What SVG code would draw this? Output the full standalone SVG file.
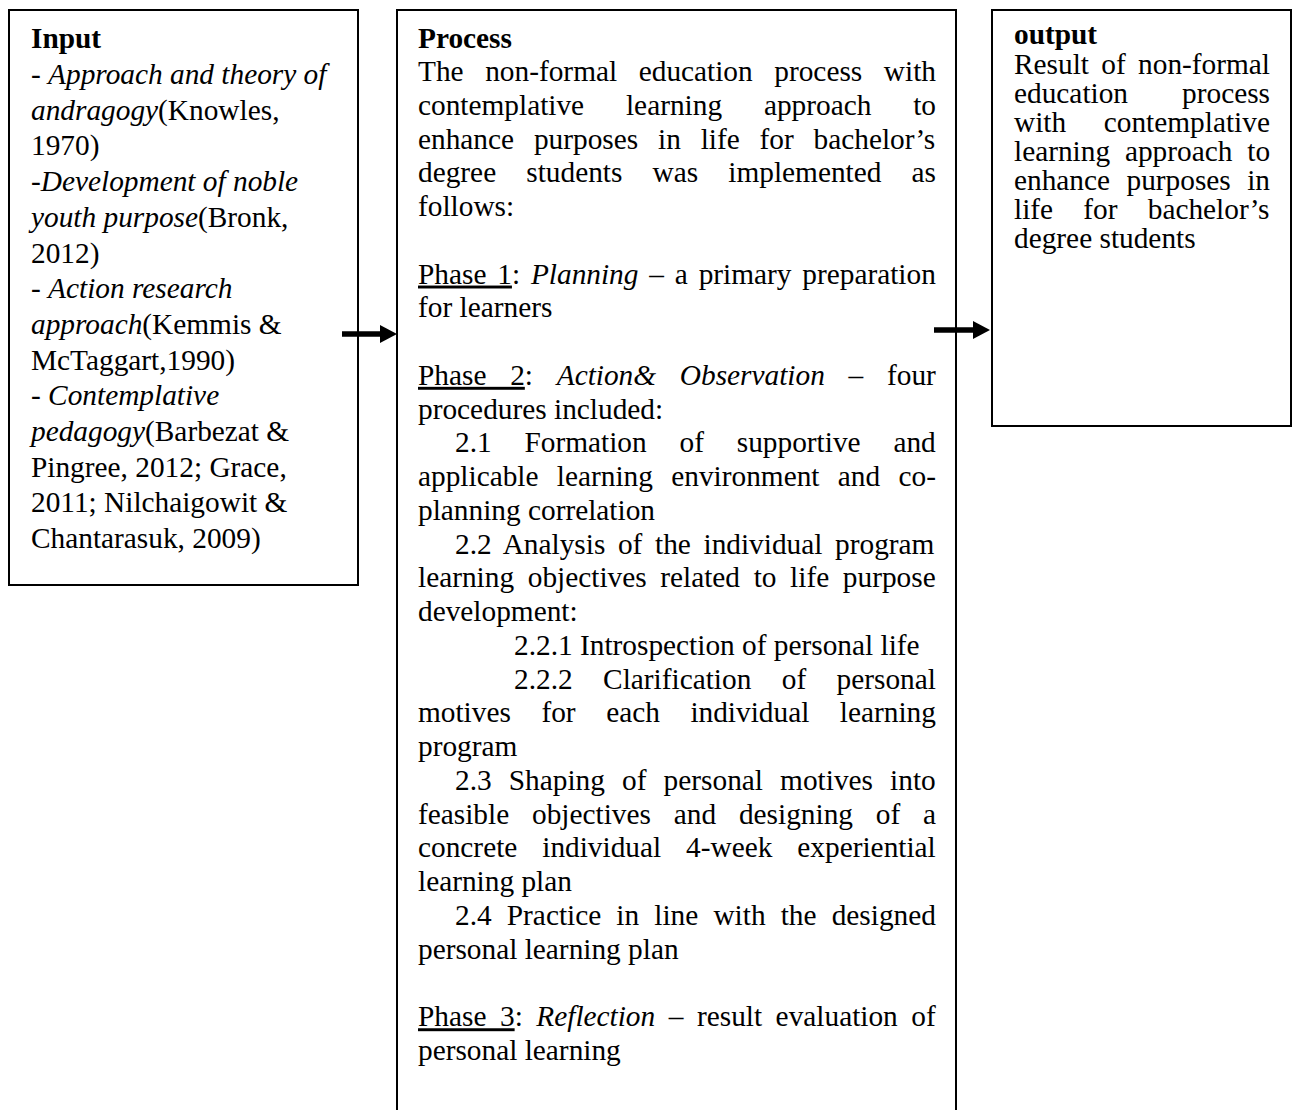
<svg xmlns="http://www.w3.org/2000/svg" width="1295" height="1110" viewBox="0 0 1295 1110">
<style>
  .box { fill: #ffffff; stroke: #000000; stroke-width: 2; }
  text { font-family: "Liberation Serif", "Times New Roman", serif; font-size: 29.33px; fill: #000000; }
  .b { font-weight: bold; }
  .i { font-style: italic; }
  .u { text-decoration: underline; }
  .conn { stroke: #000000; stroke-width: 5.5; fill: none; }
</style>
<defs>
  <marker id="head" viewBox="0 0 17 18" refX="0" refY="9" markerWidth="17" markerHeight="18" markerUnits="userSpaceOnUse" orient="auto">
    <path d="M0,0 L17,9 L0,18 Z" fill="#000000"/>
  </marker>
</defs>
<rect width="1295" height="1110" fill="#ffffff"/>

<g id="node-input">
  <rect class="box" x="9" y="10" width="349" height="575"/>
  <text x="31" y="48" class="b">Input</text>
  <text x="31" y="84">- <tspan class="i">Approach and theory of</tspan></text>
  <text x="31" y="119.7"><tspan class="i">andragogy</tspan>(Knowles,</text>
  <text x="31" y="155.4">1970)</text>
  <text x="31" y="191.1">-<tspan class="i">Development of noble</tspan></text>
  <text x="31" y="226.8"><tspan class="i">youth purpose</tspan>(Bronk,</text>
  <text x="31" y="262.5">2012)</text>
  <text x="31" y="298.2">- <tspan class="i">Action research</tspan></text>
  <text x="31" y="333.9"><tspan class="i">approach</tspan>(Kemmis &amp;</text>
  <text x="31" y="369.6">McTaggart,1990)</text>
  <text x="31" y="405.3">- <tspan class="i">Contemplative</tspan></text>
  <text x="31" y="441"><tspan class="i">pedagogy</tspan>(Barbezat &amp;</text>
  <text x="31" y="476.7">Pingree, 2012; Grace,</text>
  <text x="31" y="512.4">2011; Nilchaigowit &amp;</text>
  <text x="31" y="548.1">Chantarasuk, 2009)</text>
</g>

<g id="node-process">
  <rect class="box" x="397" y="10" width="559" height="1115"/>
  <text x="418" y="48" class="b">Process</text>
  <text x="418" y="81" style="word-spacing:14.25px">The non-formal education process with</text>
  <text x="418" y="114.76" style="word-spacing:34.5px">contemplative learning approach to</text>
  <text x="418" y="148.52" style="word-spacing:12.5px">enhance purposes in life for bachelor’s</text>
  <text x="418" y="182.28" style="word-spacing:22.8px">degree students was implemented as</text>
  <text x="418" y="216.04">follows:</text>
  <text x="418" y="283.56" style="word-spacing:3.5px"><tspan class="u">Phase 1</tspan>: <tspan class="i">Planning</tspan> – a primary preparation</text>
  <text x="418" y="317.32">for learners</text>
  <text x="418" y="384.84" style="word-spacing:16.4px"><tspan class="u">Phase 2</tspan>: <tspan class="i">Action&amp; Observation</tspan> – four</text>
  <text x="418" y="418.6">procedures included:</text>
  <text x="455" y="452.36" style="word-spacing:25.5px">2.1 Formation of supportive and</text>
  <text x="418" y="486.12" style="word-spacing:11px">applicable learning environment and co-</text>
  <text x="418" y="519.88">planning correlation</text>
  <text x="455" y="553.64" style="word-spacing:5.3px">2.2 Analysis of the individual program</text>
  <text x="418" y="587.4" style="word-spacing:6.3px">learning objectives related to life purpose</text>
  <text x="418" y="621.16">development:</text>
  <text x="514" y="654.92">2.2.1 Introspection of personal life</text>
  <text x="514" y="688.68" style="word-spacing:23.1px">2.2.2 Clarification of personal</text>
  <text x="418" y="722.44" style="word-spacing:23.2px">motives for each individual learning</text>
  <text x="418" y="756.2">program</text>
  <text x="455" y="789.96" style="word-spacing:9.8px">2.3 Shaping of personal motives into</text>
  <text x="418" y="823.72" style="word-spacing:15.5px">feasible objectives and designing of a</text>
  <text x="418" y="857.48" style="word-spacing:17.6px">concrete individual 4-week experiential</text>
  <text x="418" y="891.24">learning plan</text>
  <text x="455" y="925" style="word-spacing:7.8px">2.4 Practice in line with the designed</text>
  <text x="418" y="958.76">personal learning plan</text>
  <text x="418" y="1026.28" style="word-spacing:6.2px"><tspan class="u">Phase 3</tspan>: <tspan class="i">Reflection</tspan> – result evaluation of</text>
  <text x="418" y="1060.04">personal learning</text>
</g>

<g id="node-output">
  <rect class="box" x="992" y="10" width="299" height="416"/>
  <text x="1014" y="44" class="b">output</text>
  <text x="1014" y="74" style="word-spacing:5px">Result of non-formal</text>
  <text x="1014" y="103" style="word-spacing:46.7px">education process</text>
  <text x="1014" y="132" style="word-spacing:30.3px">with contemplative</text>
  <text x="1014" y="161" style="word-spacing:7.5px">learning approach to</text>
  <text x="1014" y="190" style="word-spacing:9.1px">enhance purposes in</text>
  <text x="1014" y="219" style="word-spacing:22.9px">life for bachelor’s</text>
  <text x="1014" y="248">degree students</text>
</g>

<g id="connectors">
  <line id="edge-input-process" class="conn" x1="342" y1="334" x2="380" y2="334" marker-end="url(#head)"/>
  <line id="edge-process-output" class="conn" x1="934" y1="330" x2="973" y2="330" marker-end="url(#head)"/>
</g>
</svg>
